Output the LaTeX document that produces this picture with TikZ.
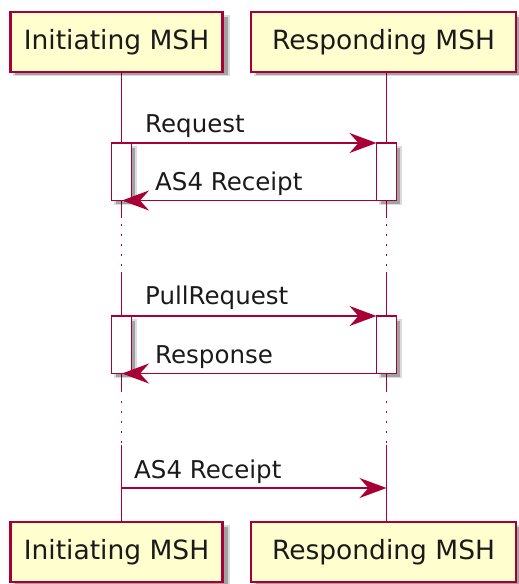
\documentclass[tikz,border=0pt]{standalone}
\usepackage{fontspec}
\setmainfont{DejaVu Sans}
\usetikzlibrary{arrows.meta}
\definecolor{umlred}{HTML}{A80036}
\definecolor{umlfill}{HTML}{FEFECE}
\definecolor{umltext}{HTML}{1A1A1A}
\begin{document}
\begin{tikzpicture}[x=1pt,y=-1pt,
  part/.style={draw=umlred, line width=2.2pt, fill=umlfill, text=umltext, minimum height=60pt, inner sep=0pt, font=\fontsize{26.5}{31}\selectfont},
  shadA/.style={fill=black, opacity=0.14},
  shadB/.style={fill=black, opacity=0.26},
  act/.style={draw=umlred, line width=1.9pt, fill=white},
  life/.style={draw=umlred, line width=1.8pt},
  dotlife/.style={draw=umlred, line width=1.8pt, dash pattern=on 2pt off 8pt},
  msg/.style={draw=umlred, line width=1.8pt, -{Stealth[length=27pt,width=20pt,inset=9pt]}},
  lbl/.style={anchor=base west, inner sep=0pt, text=umltext, font=\fontsize{24.5}{29}\selectfont}]
\useasboundingbox (0,0) rectangle (519,584);

% lifeline coordinates
\coordinate (La) at (121.5,72);
\coordinate (Lb) at (121.5,218);
\coordinate (Lc) at (121.5,224);
\coordinate (Ld) at (121.5,270);
\coordinate (Le) at (121.5,272);
\coordinate (Lf) at (121.5,392);
\coordinate (Lg) at (121.5,401);
\coordinate (Lh) at (121.5,443);
\coordinate (Li) at (121.5,445);
\coordinate (Lj) at (121.5,522);
\coordinate (Ra) at (386.5,72);
\coordinate (Rb) at (386.5,218);
\coordinate (Rc) at (386.5,224);
\coordinate (Rd) at (386.5,270);
\coordinate (Re) at (386.5,272);
\coordinate (Rf) at (386.5,392);
\coordinate (Rg) at (386.5,401);
\coordinate (Rh) at (386.5,443);
\coordinate (Ri) at (386.5,445);
\coordinate (Rj) at (386.5,522);

\draw[life] (La) -- (Lb);
\draw[dotlife] (Lc) -- (Ld);
\draw[life] (Le) -- (Lf);
\draw[dotlife] (Lg) -- (Lh);
\draw[life] (Li) -- (Lj);
\draw[life] (Ra) -- (Rb);
\draw[dotlife] (Rc) -- (Rd);
\draw[life] (Re) -- (Rf);
\draw[dotlife] (Rg) -- (Rh);
\draw[life] (Ri) -- (Rj);

% participant shadows
\foreach \yy in {12,522}{
  \fill[shadA] (13,\yy+3) rectangle (230,\yy+64);
  \fill[shadB] (14.5,\yy+4.5) rectangle (227.5,\yy+62.5);
  \fill[shadA] (254,\yy+3) rectangle (519,\yy+64);
  \fill[shadB] (255.5,\yy+4.5) rectangle (519,\yy+62.5);
}
% participants
\node[part, minimum width=212pt] (pi1) at (116.5,42) {Initiating MSH};
\node[part, minimum width=265pt] (pr1) at (383.5,42) {Responding MSH};
\node[part, minimum width=212pt] (pi2) at (116.5,552) {Initiating MSH};
\node[part, minimum width=265pt] (pr2) at (383.5,552) {Responding MSH};

% activation shadows and boxes
\foreach \ya/\yb in {143/200.5, 316/373.5}{
  \fill[shadA] (114,\ya+3) rectangle (136.5,\yb+4.5);
  \fill[shadB] (115.5,\ya+4.5) rectangle (135,\yb+3);
  \fill[shadA] (379,\ya+3) rectangle (401.5,\yb+4.5);
  \fill[shadB] (380.5,\ya+4.5) rectangle (400,\yb+3);
}
\node[act, minimum width=20pt, minimum height=57.5pt, inner sep=0pt] (aL1) at (121.5,171.75) {};
\node[act, minimum width=20pt, minimum height=57.5pt, inner sep=0pt] (aR1) at (386.5,171.75) {};
\node[act, minimum width=20pt, minimum height=57.5pt, inner sep=0pt] (aL2) at (121.5,344.75) {};
\node[act, minimum width=20pt, minimum height=57.5pt, inner sep=0pt] (aR2) at (386.5,344.75) {};

% message endpoints
\coordinate (m1s) at (131.5,143);
\coordinate (m1e) at (376.5,143);
\coordinate (m2s) at (376.5,200.5);
\coordinate (m2e) at (122,200.5);
\coordinate (m3s) at (131.5,316);
\coordinate (m3e) at (376.5,316);
\coordinate (m4s) at (376.5,373.5);
\coordinate (m4e) at (122,373.5);
\coordinate (m5s) at (121.5,488);
\coordinate (m5e) at (386.5,488);

\draw[msg] (m1s) -- (m1e);
\draw[msg] (m2s) -- (m2e);
\draw[msg] (m3s) -- (m3e);
\draw[msg] (m4s) -- (m4e);
\draw[msg] (m5s) -- (m5e);

\node[lbl] (t1) at (145,132) {Request};
\node[lbl] (t2) at (155,190) {AS4 Receipt};
\node[lbl] (t3) at (145,304) {PullRequest};
\node[lbl] (t4) at (155,363) {Response};
\node[lbl] (t5) at (134,478) {AS4 Receipt};
\end{tikzpicture}
\end{document}
